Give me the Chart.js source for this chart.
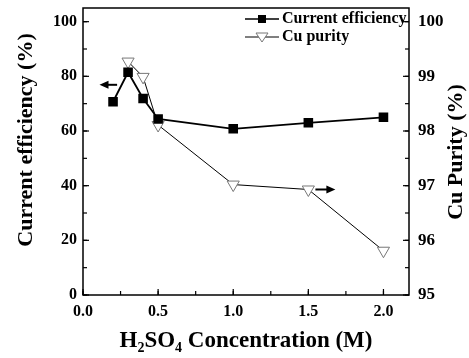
<!DOCTYPE html>
<html>
<head>
<meta charset="utf-8">
<script src="https://cdn.jsdelivr.net/npm/chart.js@4/dist/chart.umd.min.js"></script>
<style>
  html, body { margin: 0; padding: 0; background: #fff; }
  #wrap { width: 469px; height: 358px; }
</style>
</head>
<body>
<div id="wrap"><canvas id="grafico"></canvas></div>
<script>
// Datos
const concentracion = [0.2, 0.3, 0.4, 0.5, 1.0, 1.5, 2.0];
const eficiencia = [70.7, 81.5, 71.9, 64.4, 60.8, 63.0, 65.0];
const concPureza = [0.3, 0.4, 0.5, 1.0, 1.5, 2.0];
const pureza = [99.27, 98.99, 98.11, 97.02, 96.93, 95.81];
const etiquetas = ['Current efficiency', 'Cu purity'];
// flechas: [x inicio, x punta, y, eje]
const flechas = [[0.227, 0.11, 76.9, 'y'], [1.547, 1.68, 96.93, 'y1']];

const FUENTE = "'Liberation Serif', 'Times New Roman', serif";

/** Dibuja marco, ticks hacia dentro, flechas, leyenda y títulos */
const decorado = {
    id: 'decorado',
    afterDraw(chart) {
        const { ctx, chartArea: a, scales } = chart;
        ctx.save();
        ctx.strokeStyle = '#000'; ctx.lineWidth = 1.5;
        ctx.strokeRect(a.left, a.top, a.right - a.left, a.bottom - a.top);

        const marcar = (sc, paso, largo, lado) => {
            for (let v = sc.min; v <= sc.max + 1e-9; v += paso) {
                const p = sc.getPixelForValue(v);
                ctx.beginPath();
                if (lado === 'b') { ctx.moveTo(p, a.bottom); ctx.lineTo(p, a.bottom - largo); }
                if (lado === 'l') { ctx.moveTo(a.left, p); ctx.lineTo(a.left + largo, p); }
                if (lado === 'r') { ctx.moveTo(a.right, p); ctx.lineTo(a.right - largo, p); }
                ctx.stroke();
            }
        };
        ctx.lineWidth = 1.2;
        marcar(scales.x, 0.5, 6, 'b'); marcar(scales.x, 0.25, 4, 'b');
        marcar(scales.y, 20, 6, 'l'); marcar(scales.y, 10, 4, 'l');
        marcar(scales.y1, 1, 6, 'r'); marcar(scales.y1, 0.5, 4, 'r');

        // flechas
        ctx.fillStyle = '#000'; ctx.lineWidth = 2;
        flechas.forEach(([x0, x1, yv, eje]) => {
            const px0 = scales.x.getPixelForValue(x0), px1 = scales.x.getPixelForValue(x1);
            const py = scales[eje].getPixelForValue(yv), dir = Math.sign(px1 - px0);
            ctx.beginPath(); ctx.moveTo(px0, py); ctx.lineTo(px1 - dir * 6, py); ctx.stroke();
            ctx.beginPath(); ctx.moveTo(px1, py); ctx.lineTo(px1 - dir * 9, py - 4); ctx.lineTo(px1 - dir * 9, py + 4); ctx.closePath(); ctx.fill();
        });

        // leyenda
        const lx = a.right - 164, ly = a.top + 11;
        ctx.font = `bold 16px ${FUENTE}`; ctx.textBaseline = 'middle'; ctx.textAlign = 'left';
        [0, 1].forEach(i => {
            const y = ly + i * 18;
            ctx.strokeStyle = '#000'; ctx.lineWidth = i === 0 ? 1.5 : 1;
            ctx.beginPath(); ctx.moveTo(lx, y); ctx.lineTo(lx + 34, y); ctx.stroke();
            if (i === 0) { ctx.fillStyle = '#000'; ctx.fillRect(lx + 13, y - 4, 8, 8); }
            else {
                ctx.fillStyle = '#fff'; ctx.strokeStyle = '#777'; ctx.lineWidth = 1;
                ctx.beginPath(); ctx.moveTo(lx + 11, y - 4); ctx.lineTo(lx + 23, y - 4); ctx.lineTo(lx + 17, y + 5); ctx.closePath(); ctx.fill(); ctx.stroke();
            }
            ctx.fillStyle = '#000';
            ctx.fillText(etiquetas[i], lx + 37, y);
        });

        // títulos de ejes
        ctx.font = `bold 22px ${FUENTE}`; ctx.textAlign = 'center';
        ctx.save(); ctx.translate(26, 140); ctx.rotate(-Math.PI / 2);
        ctx.fillText('Current efficiency (%)', 0, 0); ctx.restore();
        ctx.save(); ctx.translate(456, 152); ctx.rotate(-Math.PI / 2);
        ctx.fillText('Cu Purity (%)', 0, 0); ctx.restore();

        // título X con subíndices
        const partes = [['H', 0], ['2', 1], ['SO', 0], ['4', 1], [' Concentration (M)', 0]];
        const fNormal = `bold 23px ${FUENTE}`, fSub = `bold 14px ${FUENTE}`;
        let ancho = 0;
        partes.forEach(([t, s]) => { ctx.font = s ? fSub : fNormal; ancho += ctx.measureText(t).width; });
        let x = (a.left + a.right) / 2 - ancho / 2; const yb = 341;
        ctx.textAlign = 'left';
        partes.forEach(([t, s]) => {
            ctx.font = s ? fSub : fNormal;
            ctx.fillText(t, x, s ? yb + 7 : yb);
            x += ctx.measureText(t).width;
        });
        ctx.restore();
    }
};

const ticksFuente = { family: FUENTE, size: 16, weight: 'bold' };
const sinRelleno = s => { s.paddingTop = 0; s.paddingBottom = 0; s.paddingLeft = 0; s.paddingRight = 0; };
const sinRejilla = { display: false, drawTicks: false };

new Chart(document.getElementById('grafico'), {
    type: 'scatter',
    data: {
        datasets: [
            { label: etiquetas[0], data: concentracion.map((x, i) => ({ x, y: eficiencia[i] })), showLine: true,
              borderColor: '#000', borderWidth: 1.8, pointStyle: 'rect', pointRadius: 5.5, pointBackgroundColor: '#000', pointBorderColor: '#000', yAxisID: 'y' },
            { label: etiquetas[1], data: concPureza.map((x, i) => ({ x, y: pureza[i] })), showLine: true,
              borderColor: '#000', borderWidth: 1, pointStyle: 'triangle', rotation: 180, pointRadius: 7,
              pointBackgroundColor: '#fff', pointBorderColor: '#777', pointBorderWidth: 1, yAxisID: 'y1' }
        ]
    },
    options: {
        responsive: true, maintainAspectRatio: false, animation: false,
        layout: { padding: { top: 8, left: 0, right: 0, bottom: 0 } },
        plugins: { legend: { display: false }, tooltip: { enabled: false } },
        scales: {
            x: { type: 'linear', min: 0, max: 2.17, grid: sinRejilla, border: { display: false },
                 ticks: { stepSize: 0.5, includeBounds: false, color: '#000', font: ticksFuente, padding: 7, callback: v => v.toFixed(1) },
                 afterFit: s => { s.height = 63; sinRelleno(s); } },
            y: { position: 'left', min: 0, max: 105, grid: sinRejilla, border: { display: false },
                 ticks: { stepSize: 20, includeBounds: false, color: '#000', font: ticksFuente, padding: 6 },
                 afterFit: s => { s.width = 83; sinRelleno(s); } },
            y1: { position: 'right', min: 95, max: 100.25, grid: sinRejilla, border: { display: false },
                 ticks: { stepSize: 1, includeBounds: false, color: '#000', font: { ...ticksFuente, size: 17 }, padding: 9 },
                 afterFit: s => { s.width = 60; sinRelleno(s); } }
        }
    },
    plugins: [decorado]
});
</script>
</body>
</html>
